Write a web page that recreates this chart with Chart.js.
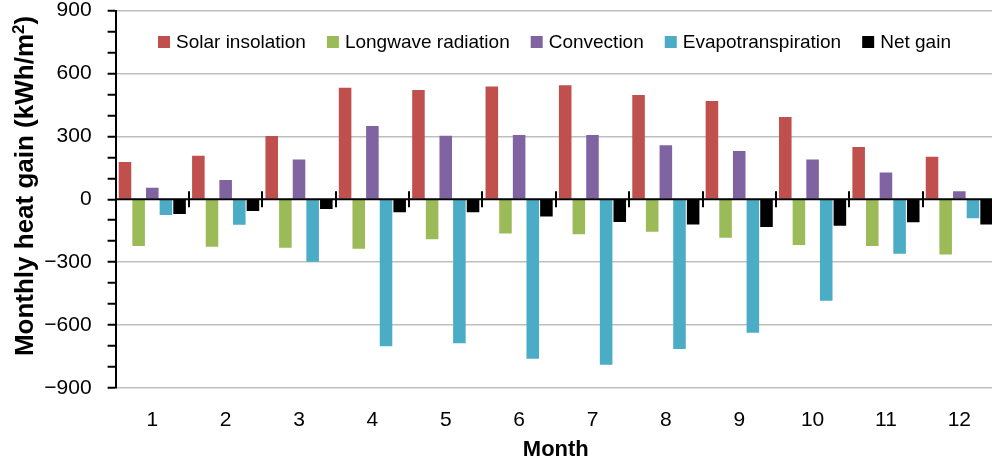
<!DOCTYPE html>
<html>
<head>
<meta charset="utf-8">
<script src="https://cdn.jsdelivr.net/npm/chart.js@4"></script>
<style>
  html, body { margin: 0; padding: 0; background: #fff; overflow: hidden; }
  #wrap { width: 1000px; height: 466px; }
</style>
</head>
<body>
<div id="wrap"><canvas id="c" width="1000" height="466"></canvas></div>
<script>
// Monthly heat budget components (kWh/m²)
const months = ['1', '2', '3', '4', '5', '6', '7', '8', '9', '10', '11', '12'];
const solarInsolation = [178, 208, 301, 532, 521, 538, 543, 497, 469, 392, 249, 203];
const longwaveRadiation = [-223, -226, -231, -236, -191, -163, -167, -155, -183, -218, -223, -264];
const convection = [55, 92, 190, 349, 303, 306, 306, 257, 230, 190, 128, 38];
const evapotranspiration = [-75, -121, -298, -701, -687, -760, -789, -714, -636, -484, -260, -91];
const netGain = [-70, -56, -47, -62, -62, -82, -108, -120, -132, -126, -110, -120];

const FONT = "'Liberation Sans', Arial, sans-serif";

// zero axis line with crossing tick marks at category boundaries
const zeroAxis = {
  id: 'zeroAxis',
  afterDatasetsDraw(chart) {
    const { ctx, chartArea } = chart;
    const y0 = chart.scales.y.getPixelForValue(0);
    const n = chart.data.labels.length;
    const step = (chartArea.right - chartArea.left) / n;
    ctx.save();
    ctx.strokeStyle = '#000';
    ctx.lineWidth = 2;
    ctx.beginPath();
    ctx.moveTo(chartArea.left, y0);
    ctx.lineTo(chartArea.right, y0);
    ctx.stroke();
    ctx.beginPath();
    for (let i = 1; i <= n; i++) {
      const x = Math.round(chartArea.left + i * step);
      ctx.moveTo(x, y0 - 8);
      ctx.lineTo(x, y0 + 8);
    }
    ctx.stroke();
    ctx.restore();
  }
};

// legend drawn inside the plot area along the top
const innerLegend = {
  id: 'innerLegend',
  afterDraw(chart) {
    const { ctx } = chart;
    ctx.save();
    ctx.font = '19px ' + FONT;
    ctx.textBaseline = 'middle';
    ctx.textAlign = 'left';
    let x = 158;
    const y = 42;
    chart.data.datasets.forEach(ds => {
      ctx.fillStyle = ds.backgroundColor;
      ctx.fillRect(x, y - 6, 12, 12);
      x += 18;
      ctx.fillStyle = '#000';
      ctx.fillText(ds.label, x, y + 1);
      x += ctx.measureText(ds.label).width + 21;
    });
    ctx.restore();
  }
};

// vertical axis title with a superscript exponent
const yTitle = {
  id: 'yTitle',
  afterDraw(chart) {
    const { ctx } = chart;
    const parts = [
      { t: 'Monthly heat gain (kWh/m', f: 'bold 26px ' + FONT, dy: 0 },
      { t: '2', f: 'bold 17px ' + FONT, dy: -9 },
      { t: ')', f: 'bold 26px ' + FONT, dy: 0 }
    ];
    ctx.save();
    let total = 0;
    parts.forEach(p => { ctx.font = p.f; p.w = ctx.measureText(p.t).width; total += p.w; });
    ctx.translate(24, 186);
    ctx.rotate(-Math.PI / 2);
    ctx.fillStyle = '#000';
    ctx.textBaseline = 'alphabetic';
    ctx.textAlign = 'left';
    let x = -total / 2;
    parts.forEach(p => {
      ctx.font = p.f;
      ctx.fillText(p.t, x, 9 + p.dy);
      x += p.w;
    });
    ctx.restore();
  }
};

new Chart(document.getElementById('c'), {
  type: 'bar',
  data: {
    labels: months,
    datasets: [
      { label: 'Solar insolation', data: solarInsolation, backgroundColor: '#C0504D' },
      { label: 'Longwave radiation', data: longwaveRadiation, backgroundColor: '#9BBB59' },
      { label: 'Convection', data: convection, backgroundColor: '#8064A2' },
      { label: 'Evapotranspiration', data: evapotranspiration, backgroundColor: '#4BACC6' },
      { label: 'Net gain', data: netGain, backgroundColor: '#000000' }
    ]
  },
  options: {
    responsive: false,
    animation: false,
    events: [],
    layout: { padding: { top: 10.5, right: 4, left: 0, bottom: 0 } },
    datasets: {
      bar: { categoryPercentage: 0.93, barPercentage: 0.92 }
    },
    plugins: {
      legend: { display: false },
      tooltip: { enabled: false }
    },
    scales: {
      x: {
        grid: { display: false, drawTicks: false },
        border: { display: false },
        ticks: { color: '#000', font: { family: FONT, size: 21 }, padding: 20 },
        title: {
          display: true, text: 'Month', color: '#000',
          font: { family: FONT, size: 22, weight: 'bold' },
          padding: { top: 0, bottom: 3 }
        },
        afterFit(scale) { scale.height = 78; scale.paddingLeft = 0; scale.paddingRight = 0; }
      },
      y: {
        min: -900, max: 900,
        ticks: {
          stepSize: 100,
          autoSkip: false,
          color: '#000',
          padding: 16,
          font: { family: FONT, size: 21 },
          callback: v => (v % 300 === 0 ? (v < 0 ? '\u2212' + Math.abs(v) : String(v)) : '')
        },
        grid: {
          color: ctx => (ctx.tick && ctx.tick.value % 300 === 0 && ctx.tick.value !== 0) ? '#BEBEBE' : 'rgba(0,0,0,0)',
          lineWidth: 1.5,
          tickColor: '#000',
          tickLength: 8,
          tickWidth: 2
        },
        border: { display: true, color: '#000', width: 2 },
        title: { display: false },
        afterFit(scale) { scale.width = 115.6; scale.paddingTop = 0; scale.paddingBottom = 0; }
      }
    }
  },
  plugins: [zeroAxis, innerLegend, yTitle]
});
</script>
</body>
</html>
